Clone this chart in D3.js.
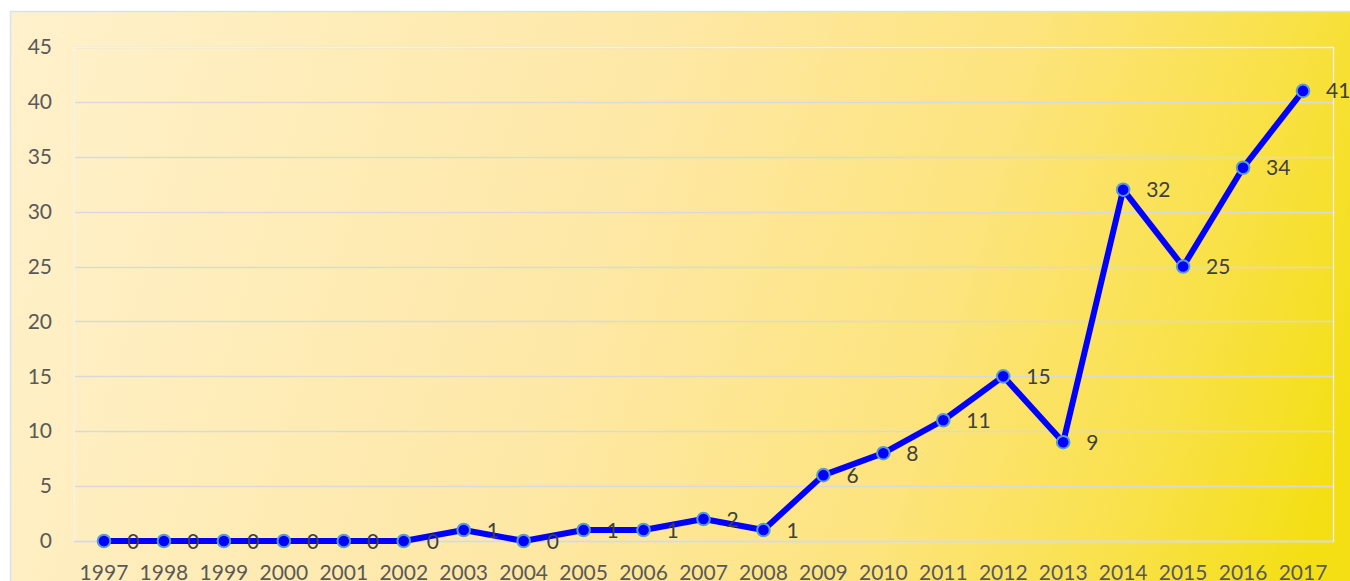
<!DOCTYPE html>
<html><head><meta charset="utf-8">
<script src="https://cdn.jsdelivr.net/npm/d3@7"></script>
<style>html,body{margin:0;padding:0;background:#fff;overflow:hidden}</style>
</head><body>
<script>
const years = ["1997","1998","1999","2000","2001","2002","2003","2004","2005","2006","2007","2008","2009","2010","2011","2012","2013","2014","2015","2016","2017"];
const values = [0,0,0,0,0,0,1,0,1,1,2,1,6,8,11,15,9,32,25,34,41];
const yTicks = [0,5,10,15,20,25,30,35,40,45];

const W = 1350, H = 581;
const svg = d3.select("body").append("svg").attr("width", W).attr("height", H);
const defs = svg.append("defs");
const grad = defs.append("linearGradient").attr("id","bg")
  .attr("gradientUnits","userSpaceOnUse")
  .attr("x1",10).attr("y1",11).attr("x2",1350).attr("y2",420);
[[0,"#fff1cc"],[0.45,"#fee8a6"],[0.7,"#fde47e"],[0.87,"#f9e14a"],[1,"#f4df14"]]
  .forEach(([o,c])=>grad.append("stop").attr("offset",o).attr("stop-color",c));

svg.append("rect").attr("x",10.5).attr("y",11.5).attr("width",1400).attr("height",620)
  .attr("fill","url(#bg)").attr("stroke","#d6e2f2").attr("stroke-width",1.5);

const m = {left:74, right:1333, top:47, bottom:541};
const x = d3.scaleBand().domain(years).range([m.left, m.right]);
const y = d3.scaleLinear().domain([0,45]).range([m.bottom, m.top]);
const cx = d => x(d) + x.bandwidth()/2;

// gridlines
svg.append("g").selectAll("line").data(yTicks).join("line")
  .attr("x1",m.left).attr("x2",m.right)
  .attr("y1",d=>Math.round(y(d))+0.5).attr("y2",d=>Math.round(y(d))+0.5)
  .attr("stroke","#d9d9d9").attr("stroke-width",1.5);
// plot border
svg.append("rect").attr("x",m.left+0.5).attr("y",m.top+0.5)
  .attr("width",m.right-m.left).attr("height",m.bottom-m.top)
  .attr("fill","none").attr("stroke","#f2f2f2").attr("stroke-width",1.2);
svg.append("line").attr("x1",m.left).attr("x2",m.right).attr("y1",m.bottom+0.5).attr("y2",m.bottom+0.5)
  .attr("stroke","#d9d9d9").attr("stroke-width",1.5);

const font = "Lato, 'Open Sans', sans-serif";
// y axis
const yAxis = d3.axisLeft(y).tickValues(yTicks).tickSize(0).tickPadding(22);
const gy = svg.append("g").attr("transform",`translate(${m.left},0)`).call(yAxis);
gy.select(".domain").remove();
gy.selectAll("text").attr("font-family",font).attr("font-size",21).attr("fill","#595959");

// x axis
const xAxis = d3.axisBottom(x).tickSize(0).tickPadding(0);
const gx = svg.append("g").attr("transform",`translate(0,${m.bottom})`).call(xAxis);
gx.select(".domain").remove();
gx.selectAll("text").attr("font-family",font).attr("font-size",21).attr("fill","#595959")
  .attr("dy",null).attr("y",39);

// line
const data = years.map((yr,i)=>({yr, v:values[i]}));
svg.append("path").datum(data)
  .attr("fill","none").attr("stroke","#0000ff").attr("stroke-width",6)
  .attr("stroke-linejoin","round")
  .attr("d", d3.line().x(d=>cx(d.yr)).y(d=>y(d.v)));
svg.append("g").selectAll("circle").data(data).join("circle")
  .attr("cx",d=>cx(d.yr)).attr("cy",d=>y(d.v)).attr("r",6.3)
  .attr("fill","#0000ff").attr("stroke","#5b9bd5").attr("stroke-width",2);
svg.append("g").selectAll("text").data(data).join("text")
  .attr("x",d=>cx(d.yr)+23).attr("y",d=>y(d.v)).attr("dy","0.36em")
  .attr("font-family",font).attr("font-size",21).attr("fill","#404040")
  .text(d=>d.v);
</script>
</body></html>
